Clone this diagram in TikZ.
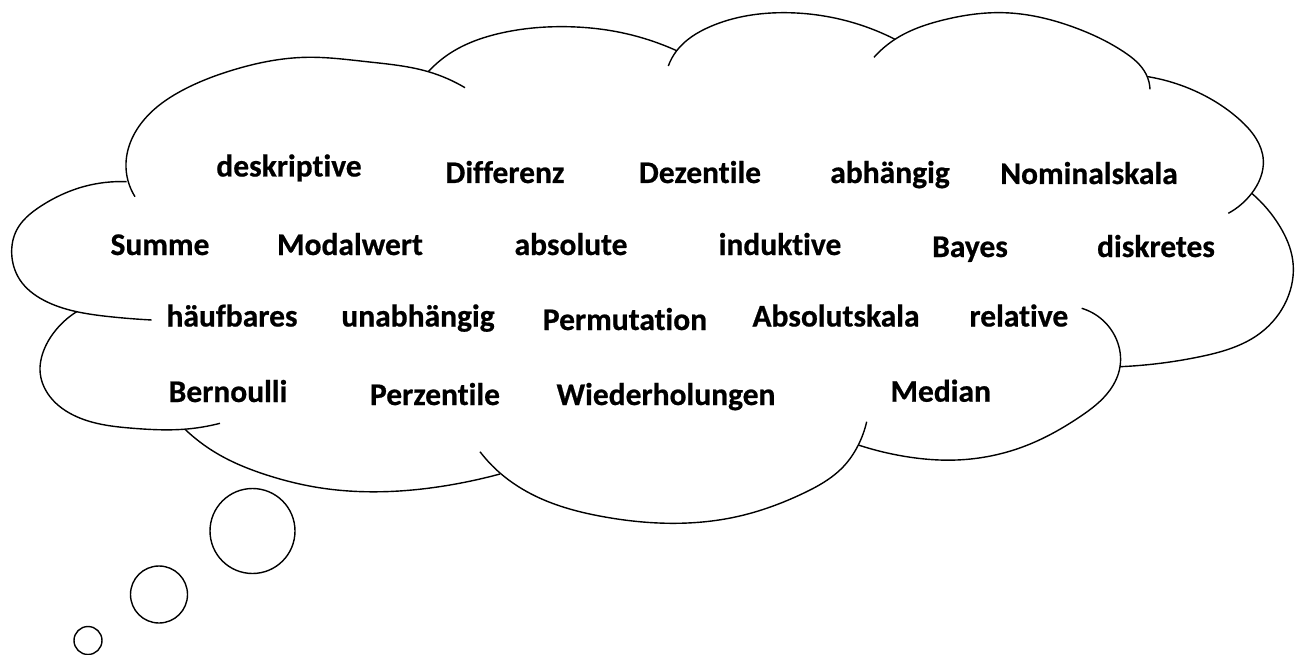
\documentclass[tikz,border=0pt]{standalone}
\usepackage{fontspec}
\setmainfont{Carlito}[Ligatures=NoCommon, BoldFeatures={FakeBold=0.6}]
\usetikzlibrary{hobby}
\begin{document}
\begin{tikzpicture}[x=1pt,y=-1pt,
  lobe/.style={line width=1.4pt, black, use Hobby shortcut},
  bubble/.style={draw, line width=1.4pt, circle, inner sep=0pt},
  word/.style={anchor=base, inner sep=0pt, font=\fontsize{31.5}{38}\selectfont\bfseries}]
\useasboundingbox (0,0) rectangle (1303,655);
% cloud lobes
\draw[lobe] (135,196.7) .. (126,163) .. (150,113.3) .. (183,90) .. (233,70) .. (306.7,57.3) .. (366.7,61.7) .. (428.3,71.7) .. (465,87.7);
\draw[lobe] (428.3,71.7) .. (450,53.3) .. (500,33.3) .. (566.7,26.7) .. (616.7,31.7) .. (676.7,50.7);
\draw[lobe] (668.3,66) .. (676.7,50.7) .. (710,26.7) .. (786.7,12.7) .. (843.3,20) .. (895,39.3);
\draw[lobe] (874,57.3) .. (895,39.3) .. (943.3,20) .. (1003.3,12.7) .. (1076.7,28.3) .. (1124,52) .. (1146,74) .. (1150,89.3);
\draw[lobe] (1148,76.7) .. (1200,93.3) .. (1240,120) .. (1263.3,160) .. (1251.7,193.3) .. (1228.3,213.3);
\draw[lobe] (1251.7,193.3) .. (1280,226.7) .. (1292.7,260) .. (1286.7,300) .. (1260,333.3) .. (1200,356.7) .. (1120,366.7);
\draw[lobe] (1081.7,308.3) .. (1116.7,340) .. (1120,366.7) .. (1110,390) .. (1080,416.7) .. (1023.3,446.7) .. (956.7,460) .. (906.7,456.7) .. (858.3,445);
\draw[lobe] (866.7,421.7) .. (858.3,445) .. (843.3,466.7) .. (803.3,493.3) .. (736.7,516.7) .. (670,523.3) .. (603.3,516.7) .. (536.7,496.7) .. (500,473) .. (480,451.7);
\draw[lobe] (185,429.3) .. (216.7,453.3) .. (266.7,475) .. (316.7,487.3) .. (383.3,491.7) .. (450,485) .. (500,474);
\draw[lobe] (76.7,311.7) .. (53.3,333.3) .. (41.7,356.7) .. (40,370) .. (50,396.7) .. (76.7,416.7) .. (133.3,428.3) .. (183.3,429.3) .. (220,423.3);
\draw[lobe] (126.7,181.7) .. (83.3,186.7) .. (40,206.7) .. (16.7,230) .. (11.7,253.3) .. (20,280) .. (43.3,300) .. (76.7,311.7) .. (110,316.7) .. (151.7,320);
% thought bubbles
\node[bubble, minimum size=85pt] (b1) at (252.5,531) {};
\node[bubble, minimum size=57pt] (b2) at (159,594.5) {};
\node[bubble, minimum size=28pt] (b3) at (88,640.5) {};
% words
\node[word] (w1) at (289,176.5) {deskriptive};
\node[word] (w2) at (505,183) {Differenz};
\node[word] (w3) at (700,183) {Dezentile};
\node[word] (w4) at (890,183) {abhängig};
\node[word] (w5) at (1089,184) {Nominalskala};
\node[word] (w6) at (160,255) {Summe};
\node[word] (w7) at (350,255) {Modalwert};
\node[word] (w8) at (571,255) {absolute};
\node[word] (w9) at (780,255) {induktive};
\node[word] (w10) at (970,257) {Bayes};
\node[word] (w11) at (1156,257) {diskretes};
\node[word] (w12) at (232,326.5) {häufbares};
\node[word] (w13) at (418,326.5) {unabhängig};
\node[word] (w14) at (625,330) {Permutation};
\node[word] (w15) at (836,326.5) {Absolutskala};
\node[word] (w16) at (1018.8,326.5) {relative};
\node[word] (w17) at (228,402) {Bernoulli};
\node[word] (w18) at (435,405) {Perzentile};
\node[word] (w19) at (666,405) {Wiederholungen};
\node[word] (w20) at (940.7,401.7) {Median};
\end{tikzpicture}
\end{document}
